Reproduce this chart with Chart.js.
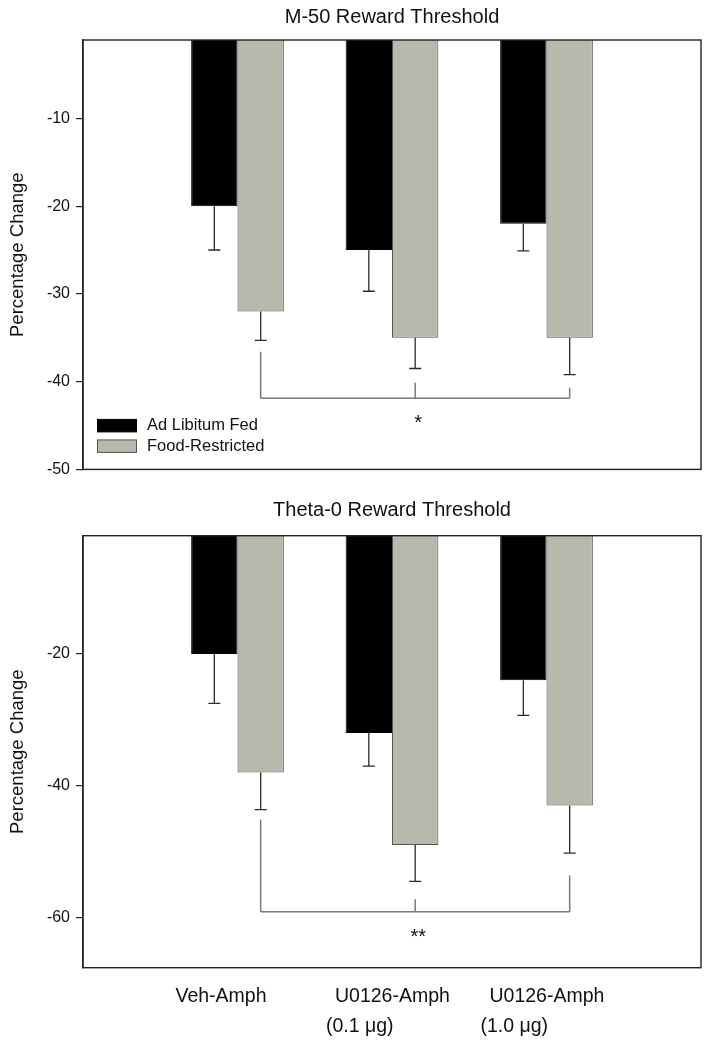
<!DOCTYPE html>
<html>
<head>
<meta charset="utf-8">
<script src="https://cdn.jsdelivr.net/npm/chart.js@4.4.1/dist/chart.umd.min.js"></script>
<style>
    body { margin: 0; background: #fff; }
    #wrap { position: relative; width: 711px; height: 1044px; }
    #top-chart { position: absolute; left: 0; top: 0; }
    #bottom-chart { position: absolute; left: 0; top: 485px; }
</style>
</head>
<body>
<div id="wrap">
    <canvas id="top-chart" width="711" height="485"></canvas>
    <canvas id="bottom-chart" width="711" height="559"></canvas>
</div>
<script>
// Categorias (posiciones 1..3 en un eje lineal de 0 a 4)
var categories = ['Veh-Amph', 'U0126-Amph', 'U0126-Amph'];
var categoryDoses = ['', '(0.1 \u03bcg)', '(1.0 \u03bcg)'];
var categoryPos = [1, 2, 3];
var seriesNames = ['Ad Libitum Fed', 'Food-Restricted'];

// M-50 Reward Threshold
var m50Fed = [-20, -25, -22];
var m50FedErr = [5, 4.7, 3.1];
var m50Restricted = [-32, -35, -35];
var m50RestrictedErr = [3.3, 3.5, 4.2];
var m50Ticks = [-10, -20, -30, -40, -50];
var m50Bracket = [-41.9, -36.6, -40.1, -40.7]; // nivel, extremos de cada barra
var m50Star = ['*', -44.3];

// Theta-0 Reward Threshold
var theta0Fed = [-20, -32, -24];
var theta0FedErr = [7.5, 5, 5.3];
var theta0Restricted = [-38, -49, -43];
var theta0RestrictedErr = [5.6, 5.5, 7.2];
var theta0Ticks = [-20, -40, -60];
var theta0Bracket = [-59.1, -45.1, -57.2, -53.6];
var theta0Star = ['**', -62.4];

var FONT = "'Liberation Sans', Arial, Helvetica, sans-serif";
var INK = '#111';
var GRAY_FILL = '#b8b8ac';

function toPoints(values) {
    return values.map(function (v, i) {
        return { x: categoryPos[i], y: v };
    });
}

// Marco completo, barras de error y corchete de significancia
var decorPlugin = {
    id: 'decor',
    afterDatasetsDraw: function (chart) {
        var ctx = chart.ctx;
        var area = chart.chartArea;
        var y = chart.scales.y;
        var extra = chart.options.plugins.decor;

        ctx.save();
        // barras de error (solo hacia abajo)
        ctx.strokeStyle = '#2a2a2a';
        ctx.lineWidth = 1.3;
        chart.data.datasets.forEach(function (ds, di) {
            var meta = chart.getDatasetMeta(di);
            meta.data.forEach(function (bar, j) {
                var v = ds.data[j].y;
                var yEnd = y.getPixelForValue(v - ds.errors[j]);
                ctx.beginPath();
                ctx.moveTo(bar.x, bar.y);
                ctx.lineTo(bar.x, yEnd);
                ctx.moveTo(bar.x - 6, yEnd);
                ctx.lineTo(bar.x + 6, yEnd);
                ctx.stroke();
            });
        });

        // corchete entre las barras Food-Restricted
        var gray = chart.getDatasetMeta(1).data;
        var level = y.getPixelForValue(extra.bracket[0]);
        ctx.strokeStyle = '#7a7a7a';
        ctx.lineWidth = 1.5;
        ctx.beginPath();
        ctx.moveTo(gray[0].x, level);
        ctx.lineTo(gray[2].x, level);
        for (var k = 0; k < 3; k++) {
            ctx.moveTo(gray[k].x, y.getPixelForValue(extra.bracket[k + 1]));
            ctx.lineTo(gray[k].x, level);
        }
        ctx.stroke();

        ctx.fillStyle = INK;
        ctx.font = '20px ' + FONT;
        ctx.textAlign = 'center';
        ctx.textBaseline = 'middle';
        ctx.fillText(extra.star[0], gray[1].x + 3, y.getPixelForValue(extra.star[1]) + 4);

        // marco
        ctx.strokeStyle = '#222';
        ctx.lineWidth = 1.4;
        ctx.strokeRect(area.left, area.top, area.right - area.left, area.bottom - area.top);

        // leyenda dentro del area (solo panel superior)
        if (extra.legend) {
            var colors = [['#000', '#000'], [GRAY_FILL, '#555']];
            ctx.font = '16.5px ' + FONT;
            ctx.textAlign = 'left';
            for (var s = 0; s < 2; s++) {
                var by = area.bottom - 50 + s * 20.5;
                ctx.fillStyle = colors[s][0];
                ctx.fillRect(area.left + 14.5, by, 39, 12.5);
                ctx.strokeStyle = colors[s][1];
                ctx.lineWidth = 1;
                ctx.strokeRect(area.left + 14.5, by, 39, 12.5);
                ctx.fillStyle = INK;
                ctx.fillText(seriesNames[s], area.left + 64, by + 6.5);
            }
        }

        // etiquetas del eje x (solo panel inferior)
        if (extra.xLabels) {
            var x = chart.scales.x;
            ctx.font = '19.5px ' + FONT;
            ctx.textAlign = 'left';
            ctx.fillStyle = INK;
            categoryPos.forEach(function (p, i) {
                var px = x.getPixelForValue(p);
                ctx.fillText(categories[i], px - (i === 0 ? 62 : 57), area.bottom + 29);
                if (categoryDoses[i]) {
                    ctx.fillText(categoryDoses[i], px - 66, area.bottom + 59);
                }
            });
        }
        ctx.restore();
    }
};

function buildChart(canvasId, title, fed, fedErr, restricted, restrictedErr, yMin, yMax, yTicks, bracket, star, opts) {
    var ctx = document.getElementById(canvasId).getContext('2d');
    return new Chart(ctx, {
        type: 'bar',
        data: {
            datasets: [{
                label: seriesNames[0],
                data: toPoints(fed),
                errors: fedErr,
                backgroundColor: '#000',
                borderColor: '#000',
                borderWidth: 1,
                categoryPercentage: 0.6,
                barPercentage: 1.0,
                clip: 0
            }, {
                label: seriesNames[1],
                data: toPoints(restricted),
                errors: restrictedErr,
                backgroundColor: GRAY_FILL,
                borderColor: '#555',
                borderWidth: 1,
                categoryPercentage: 0.6,
                barPercentage: 1.0,
                clip: 0
            }]
        },
        options: {
            responsive: false,
            animation: false,
            layout: {
                padding: { left: 0, right: 10, top: 0, bottom: opts.bottomPad }
            },
            scales: {
                x: {
                    type: 'linear',
                    min: 0,
                    max: 4,
                    offset: false,
                    display: false,
                    ticks: { stepSize: 1 }
                },
                y: {
                    min: yMin,
                    max: yMax,
                    afterBuildTicks: function (scale) {
                        scale.ticks = yTicks.map(function (v) { return { value: v }; });
                    },
                    afterFit: function (scale) {
                        scale.width = 83;
                    },
                    grid: {
                        display: true,
                        drawOnChartArea: false,
                        drawTicks: true,
                        tickLength: 7,
                        color: '#222',
                        lineWidth: 1.2
                    },
                    border: { display: true, color: '#222', width: 1.4 },
                    ticks: {
                        color: INK,
                        padding: 6,
                        font: { family: FONT, size: 16 }
                    },
                    title: {
                        display: true,
                        text: 'Percentage Change',
                        color: INK,
                        padding: { top: 6.5, bottom: 0 },
                        font: { family: FONT, size: 18.5 }
                    }
                }
            },
            plugins: {
                legend: { display: false },
                tooltip: { enabled: false },
                title: {
                    display: true,
                    text: title,
                    fullSize: false,
                    color: INK,
                    font: { family: FONT, size: 20, weight: 'normal' },
                    padding: { top: opts.titleTop, bottom: opts.titleBottom }
                },
                decor: {
                    bracket: bracket,
                    star: star,
                    legend: opts.legend,
                    xLabels: opts.xLabels
                }
            }
        },
        plugins: [decorPlugin]
    });
}

buildChart('top-chart', 'M-50 Reward Threshold',
    m50Fed, m50FedErr, m50Restricted, m50RestrictedErr,
    -50, -1.07, m50Ticks, m50Bracket, m50Star,
    { bottomPad: 13, titleTop: 5, titleBottom: 11, legend: true, xLabels: false });

buildChart('bottom-chart', 'Theta-0 Reward Threshold',
    theta0Fed, theta0FedErr, theta0Restricted, theta0RestrictedErr,
    -67.6, -2.05, theta0Ticks, theta0Bracket, theta0Star,
    { bottomPad: 76.3, titleTop: 13, titleBottom: 13.7, legend: false, xLabels: true });
</script>
</body>
</html>
